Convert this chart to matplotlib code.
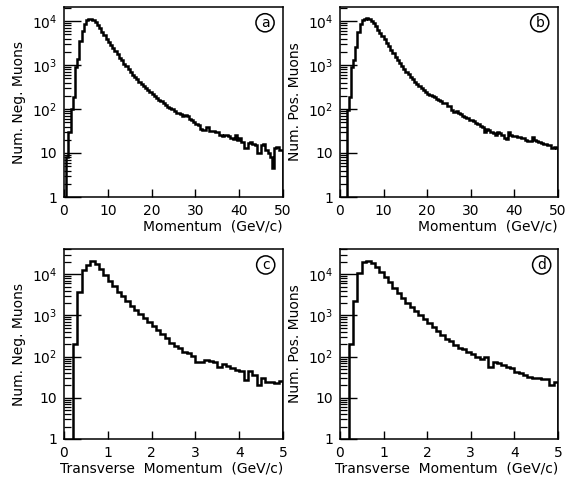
import numpy as np
import matplotlib
matplotlib.use("Agg")
import matplotlib.pyplot as plt
from matplotlib.ticker import LogLocator, FixedLocator, FixedFormatter, NullFormatter

plt.rcParams['font.family'] = ['DejaVu Sans']
plt.rcParams['mathtext.default'] = 'regular'

# ---- data ----
p_edges_neg = np.arange(0.5, 50.01, 0.5)
neg_p = [8, 30, 100, 190, 900, 1400, 3500, 6000, 8500, 10500, 11000, 11200, 10800, 9500, 8000,
         6800, 5700, 4800, 4000, 3400, 2900, 2450, 2050, 1750, 1480, 1270, 1080, 930, 800, 690,
         600, 530, 470, 415, 370, 330, 300, 270, 245, 220, 200, 180, 160, 150, 135, 125, 110, 105,
         98, 92, 80, 82, 76, 68, 72, 70, 58, 55, 50, 46, 44, 36, 33, 34, 38, 32, 32, 31, 30, 30,
         26, 24, 26, 25, 24, 22, 21, 25, 20, 22, 18, 13, 13, 17, 18, 16, 15, 10, 10, 15, 16, 12,
         10, 8, 4.5, 13, 14, 12, 12]

p_edges_pos = np.arange(1.5, 50.01, 0.5)
pos_p = [95, 190, 900, 1300, 2500, 5500, 8500, 10500, 11300, 11500, 11000, 10000, 8800, 7500,
         6400, 5400, 4500, 3800, 3200, 2650, 2200, 1850, 1550, 1300, 1100, 950, 820, 700, 610, 530,
         470, 420, 370, 330, 300, 270, 245, 225, 210, 195, 185, 170, 160, 150, 140, 135, 120, 118,
         95, 85, 90, 80, 75, 68, 66, 62, 57, 55, 52, 48, 46, 42, 38, 30, 36, 34, 30, 28, 26, 30,
         28, 26, 22, 21, 30, 25, 24, 24, 23, 23, 22, 22, 20, 19, 19, 23, 20, 19, 18, 17, 16, 16,
         15, 15, 13, 14, 13]

pt_edges = np.arange(0.2, 5.001, 0.1)
neg_pt = [200, 3700, 13000, 17000, 21000, 18000, 13500, 9500, 7000, 5200, 3800, 2900, 2200, 1700,
          1350, 1100, 880, 700, 560, 450, 360, 290, 220, 180, 160, 130, 120, 105, 72, 76, 85, 80,
          72, 56, 67, 60, 52, 48, 45, 27, 44, 36, 21, 31, 24, 24, 23, 25]
pos_pt = [200, 2300, 10500, 19500, 21000, 19000, 15000, 11400, 8700, 6400, 4700, 3500, 2650, 2050,
          1600, 1280, 1000, 800, 640, 510, 420, 330, 270, 240, 190, 165, 150, 130, 115, 100, 88, 100,
          56, 72, 70, 62, 56, 52, 42, 40, 36, 32, 31, 30, 28, 29, 20, 24]

y_ticks = [1, 10, 100, 1000, 10000]
y_ticklabels = ['1', '10', '$10^2$', '$10^3$', '$10^4$']
p_ticks = [0, 10, 20, 30, 40, 50]
pt_ticks = [0, 1, 2, 3, 4, 5]

panels = [
    dict(edges=p_edges_neg, vals=neg_p, ylabel='Num. Neg. Muons', xlabel='Momentum  (GeV/c)',
         xlim=(0, 50), xticks=p_ticks, ytop=2.08e4, tag='a',
         rect=[64/573, 1-197/483, 219/573, 190/483], tagpos=(0.918, 0.917)),
    dict(edges=p_edges_pos, vals=pos_p, ylabel='Num. Pos. Muons', xlabel='Momentum  (GeV/c)',
         xlim=(0, 50), xticks=p_ticks, ytop=2.08e4, tag='b',
         rect=[340/573, 1-197/483, 218/573, 190/483], tagpos=(0.916, 0.917)),
    dict(edges=pt_edges, vals=neg_pt, ylabel='Num. Neg. Muons',
         xlabel='Transverse  Momentum  (GeV/c)', xlim=(0, 5), xticks=pt_ticks, ytop=4.1e4, tag='c',
         rect=[64/573, 1-439/483, 219/573, 190/483], tagpos=(0.921, 0.916)),
    dict(edges=pt_edges, vals=pos_pt, ylabel='Num. Pos. Muons',
         xlabel='Transverse  Momentum  (GeV/c)', xlim=(0, 5), xticks=pt_ticks, ytop=4.1e4, tag='d',
         rect=[340/573, 1-439/483, 218/573, 190/483], tagpos=(0.925, 0.916)),
]

fig = plt.figure(figsize=(5.73, 4.83), dpi=100)
for p in panels:
    ax = fig.add_axes(p['rect'])
    ax.stairs(p['vals'], p['edges'], baseline=1e-3, color='black', lw=1.8)
    ax.set_yscale('log')
    ax.set_xlim(*p['xlim'])
    ax.set_ylim(1, p['ytop'])
    ax.yaxis.set_major_locator(FixedLocator(y_ticks))
    ax.yaxis.set_major_formatter(FixedFormatter(y_ticklabels))
    ax.yaxis.set_minor_locator(LogLocator(base=10, subs=np.arange(2, 10)))
    ax.yaxis.set_minor_formatter(NullFormatter())
    ax.set_xticks(p['xticks'])
    ax.set_xticklabels([str(t) for t in p['xticks']])
    ax.tick_params(axis='y', which='major', direction='in', length=12, width=1.0,
                   labelsize=10, pad=5, right=False)
    ax.tick_params(axis='y', which='minor', direction='in', length=5, width=0.9, right=False)
    ax.tick_params(axis='x', which='major', direction='in', length=6, width=1.0,
                   labelsize=10, pad=5, top=False)
    for s in ax.spines.values():
        s.set_linewidth(1.1)
    ax.set_ylabel(p['ylabel'], fontsize=10, labelpad=4)
    ax.set_xlabel(p['xlabel'], fontsize=10, loc='right', labelpad=1)
    ax.text(p['tagpos'][0], p['tagpos'][1], p['tag'], transform=ax.transAxes,
            ha='center', va='center', fontsize=10,
            bbox=dict(boxstyle='circle,pad=0.15', fc='white', ec='black', lw=1.1))

fig.savefig('out.png', dpi=100)
